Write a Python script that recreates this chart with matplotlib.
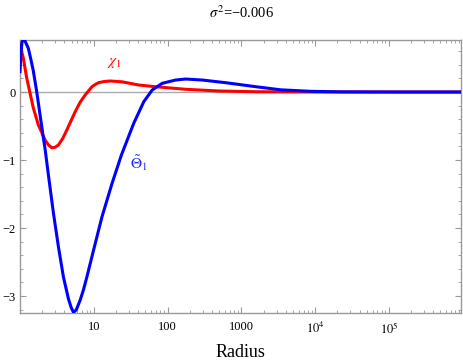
import numpy as np
import matplotlib
matplotlib.use("Agg")
import matplotlib.pyplot as plt
from matplotlib.ticker import LogLocator, FixedLocator, MultipleLocator, NullFormatter

# ---- data ----
r_chi = [1.0, 1.109, 1.233, 1.368, 1.516, 1.774, 2.188, 2.427, 2.70, 2.99, 3.32,
         3.79, 4.31, 5.60, 6.54, 7.65, 9.45, 10.5, 11.6, 13.9, 16.7, 24.2, 40.7,
         68.5, 176, 496, 1574, 6400, 148000, 1e6]
chi1 = [0.691, 0.50, 0.206, -0.015, -0.235, -0.485, -0.706, -0.779, -0.819, -0.813,
        -0.779, -0.684, -0.559, -0.29, -0.15, -0.044, 0.078, 0.112, 0.137, 0.155,
        0.162, 0.150, 0.103, 0.078, 0.04, 0.015, 0.004, 0.001, 0.0, 0.0]

r_theta = [1.0, 1.032, 1.065, 1.109, 1.17, 1.297, 1.41, 1.516, 1.60, 1.687, 1.871,
           2.075, 2.188, 2.427, 2.838, 3.32, 3.88, 4.54, 4.94, 5.31, 5.78, 6.55,
           7.27, 8.08, 9.94, 12.93, 17.7, 23.7, 34.8, 47.6, 61.9, 84.7, 128.5,
           175.8, 296.6, 615, 1574, 3444, 8830, 22600, 148000, 1e6]
theta1 = [0.299, 0.588, 0.735, 0.772, 0.75, 0.643, 0.471, 0.309, 0.154, 0.0, -0.338,
          -0.676, -0.838, -1.221, -1.779, -2.279, -2.721, -3.044, -3.169, -3.24,
          -3.206, -3.059, -2.904, -2.716, -2.324, -1.834, -1.343, -0.926, -0.46,
          -0.143, 0.029, 0.128, 0.176, 0.191, 0.176, 0.137, 0.078, 0.032, 0.01,
          0.002, 0.0, 0.0]

x_major = [10, 100, 1000, 1e4, 1e5]
x_labels = ["10", "100", "1000", r"$10^4$", r"$10^5$"]
y_major = [0, -1, -2, -3]
y_labels = ["0", "\u22121", "\u22122", "\u22123"]

plt.rcParams['font.family'] = ['Liberation Serif', 'DejaVu Serif']
plt.rcParams['mathtext.fontset'] = 'stix'

fig = plt.figure(figsize=(4.63, 3.61), dpi=100)
ax = fig.add_axes([20 / 463, 48 / 361, 441 / 463, 273 / 361])

frame_gray = "#999999"
ax.axhline(0, color="#aaaaaa", lw=1.0, zorder=1)
ax.plot(r_chi, chi1, color=(1, 0, 0), lw=2.2, zorder=3, solid_joinstyle="round")
ax.plot(r_theta, theta1, color=(0, 0, 1), lw=2.2, zorder=4, solid_joinstyle="round")

ax.set_xscale("log")
ax.set_xlim(1, 9.5e5)
ax.set_ylim(-3.25, 0.765)

ax.xaxis.set_major_locator(FixedLocator(x_major))
ax.set_xticklabels(x_labels)
ax.xaxis.set_minor_locator(LogLocator(base=10, subs=np.arange(2, 10), numticks=20))
ax.xaxis.set_minor_formatter(NullFormatter())
ax.yaxis.set_major_locator(FixedLocator(y_major))
ax.set_yticklabels(y_labels)
ax.yaxis.set_minor_locator(MultipleLocator(0.2))

for s in ax.spines.values():
    s.set_color(frame_gray)
    s.set_linewidth(1.0)
ax.tick_params(which="both", direction="in", color=frame_gray, top=True, right=True,
               labelsize=9)
ax.tick_params(axis="x", pad=6)
ax.tick_params(axis="y", pad=3)
ax.tick_params(which="major", length=4, width=0.8)
ax.tick_params(which="minor", length=2.5, width=0.6)

ax.set_xlabel("Radius", fontsize=13, labelpad=5)
fig.text(0.522, 0.965, r"$\sigma^2$" + "=\u22120.006", ha="center", va="center",
         fontsize=10.5)

ax.text(19, 0.43, r"$\chi_1$", color=(1, 0, 0), fontsize=11, ha="center", va="center")
ax.text(41, -1.05, r"$\tilde{\Theta}_1$", color=(0.15, 0.15, 1), fontsize=11,
        ha="center", va="center")

fig.savefig("out.png", dpi=100)
